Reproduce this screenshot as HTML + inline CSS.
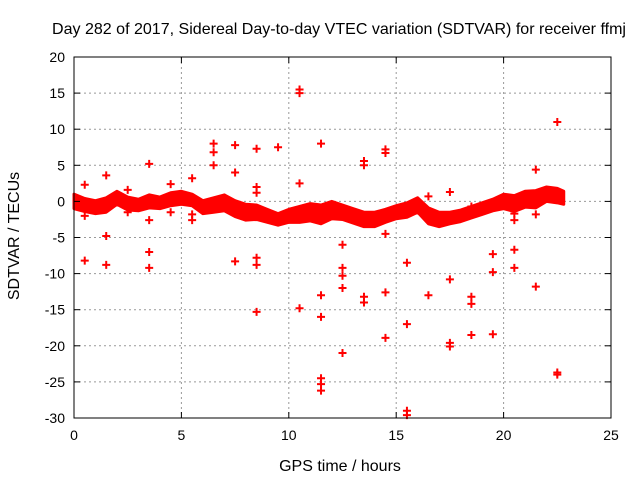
<!DOCTYPE html>
<html><head><meta charset="utf-8"><style>
body{margin:0;background:#fff;}
svg{display:block;font-family:"Liberation Sans",sans-serif;}
</style></head><body>
<svg id="chart" width="640" height="480" xmlns="http://www.w3.org/2000/svg">
<rect width="640" height="480" fill="#fff"/>
<text x="339" y="34" font-size="16" textLength="574" lengthAdjust="spacingAndGlyphs" text-anchor="middle">Day 282 of 2017, Sidereal Day-to-day VTEC variation (SDTVAR) for receiver ffmj</text>
<text x="340" y="471" font-size="16" text-anchor="middle">GPS time / hours</text>
<text transform="translate(19,236) rotate(-90)" font-size="16" text-anchor="middle">SDTVAR / TECUs</text>
<g id="grid"></g><g id="band"></g><g id="marks"></g><g id="axes"></g>
</svg>
<script>
const xTicks=[0,5,10,15,20,25];
const yTicks=[20,15,10,5,0,-5,-10,-15,-20,-25,-30];
const bandTimes=[0,0.5,1,1.5,2,2.5,3,3.5,4,4.5,5,5.5,6,6.5,7,7.5,8,8.5,9,9.5,10,10.5,11,11.5,12,12.5,13,13.5,14,14.5,15,15.5,16,16.5,17,17.5,18,18.5,19,19.5,20,20.5,21,21.5,22,22.5,22.8];
const bandCenter=[0,-0.5,-0.8,-0.5,0.5,-0.3,-0.5,0,-0.2,0.3,0.5,0.2,-0.8,-0.5,-0.2,-1.0,-1.5,-1.5,-2,-2.5,-2,-1.8,-1.5,-1.8,-1.2,-1.5,-2.0,-2.5,-2.5,-2,-1.5,-1.2,-0.5,-2,-2.5,-2.3,-2,-1.5,-1,-0.5,0,-0.3,0.3,0.3,1,0.8,0.5];
const bandHalf=[1.0,0.9,0.9,1.0,0.9,0.9,0.8,0.9,0.8,0.9,0.9,0.8,0.9,1.0,1.1,1.1,1.1,1.0,0.9,0.8,0.9,1.1,1.2,1.3,1.2,1.0,1.0,1.0,1.0,0.9,0.9,1.0,1.0,1.1,1.0,0.8,0.8,0.8,0.8,0.8,1.0,1.1,1.1,1.2,1.0,1.0,0.9];
const outT=[0.5,0.5,0.5,1.5,1.5,1.5,2.5,2.5,3.5,3.5,3.5,3.5,4.5,4.5,5.5,5.5,5.5,6.5,6.5,6.5,7,7.5,7.5,7.5,8.5,8.5,8.5,8.5,8.5,8.5,9.5,10.5,10.5,10.5,10.5,11.5,11.5,11.5,11.5,11.5,11.5,12.5,12.5,12.5,12.5,12.5,13.5,13.5,13.5,13.5,14.5,14.5,14.5,14.5,14.5,15.5,15.5,15.5,15.5,16.5,16.5,17.5,17.5,17.5,17.5,18.5,18.5,18.5,18.5,19.5,19.5,19.5,20.5,20.5,20.5,20.5,21.5,21.5,21.5,22.5,22.5,22.5];
const outV=[2.3,-2,-8.2,3.6,-4.8,-8.8,1.6,-1.5,5.2,-2.6,-7,-9.2,2.4,-1.5,3.2,-1.8,-2.6,8,6.8,5,0.5,7.8,4,-8.3,7.3,2,1.2,-7.8,-8.8,-15.3,7.5,15.5,15,2.5,-14.8,8,-13,-16,-24.5,-25.3,-26.2,-6,-9.2,-10.3,-12,-21,5.6,5,-13.2,-14,7.2,6.7,-4.5,-12.6,-18.9,-8.5,-17,-29,-29.6,0.7,-13,1.3,-10.8,-19.6,-20.1,-0.7,-13.2,-14.2,-18.5,-7.3,-9.8,-18.4,-1.7,-2.6,-6.7,-9.2,4.4,-1.8,-11.8,11,-24,-23.7];
const X0=74,X1=611,Y0=57,Y1=418;
const sx=t=>X0+(t-0)/(25-0)*(X1-X0);
const sy=v=>Y1-(v+30)/(50)*(Y1-Y0);
const NS="http://www.w3.org/2000/svg";
function mk(tag,attrs,parent){const e=document.createElementNS(NS,tag);for(const k in attrs)e.setAttribute(k,attrs[k]);document.getElementById(parent).appendChild(e);return e;}
xTicks.forEach(t=>{
 if(t>0&&t<25){const g=mk('line',{x1:sx(t),x2:sx(t),y1:Y0,y2:Y1,stroke:'#999','stroke-dasharray':'2,3'},'grid');
 
 }
 mk('line',{x1:sx(t),x2:sx(t),y1:Y1,y2:Y1-6,stroke:'#000'},'axes');
 mk('line',{x1:sx(t),x2:sx(t),y1:Y0,y2:Y0+6,stroke:'#000'},'axes');
 const l=mk('text',{x:sx(t),y:Y1+22,'font-size':14,'text-anchor':'middle'},'axes');l.textContent=t;
 
 
});
yTicks.forEach(v=>{
 if(v<20&&v>-30){const g=mk('line',{x1:X0,x2:X1,y1:sy(v),y2:sy(v),stroke:'#999','stroke-dasharray':'2,3'},'grid');
 
 }
 mk('line',{x1:X0,x2:X0+6,y1:sy(v),y2:sy(v),stroke:'#000'},'axes');
 mk('line',{x1:X1,x2:X1-6,y1:sy(v),y2:sy(v),stroke:'#000'},'axes');
 const l=mk('text',{x:X0-9,y:sy(v)+5,'font-size':14,'text-anchor':'end'},'axes');l.textContent=v;
 
 
});
const fr=mk('rect',{x:X0,y:Y0,width:X1-X0,height:Y1-Y0,fill:'none',stroke:'#000'},'axes');


let up=bandTimes.map((t,i)=>sx(t)+','+sy(bandCenter[i]+bandHalf[i]));
let dn=bandTimes.map((t,i)=>sx(t)+','+sy(bandCenter[i]-bandHalf[i])).reverse();
const band=mk('polygon',{points:up.concat(dn).join(' '),fill:'#f00',stroke:'#f00','stroke-width':3,'stroke-linejoin':'round'},'band');


function plus(t,v){
 const x=sx(t),y=sy(v);
 const p=mk('path',{d:`M${x-4},${y}H${x+4}M${x},${y-4}V${y+4}`,stroke:'#f00','stroke-width':2},'marks');
 return p;
}
outT.forEach((t,i)=>{const p=plus(t,outV[i]);
 
 });
</script>
</body></html>
